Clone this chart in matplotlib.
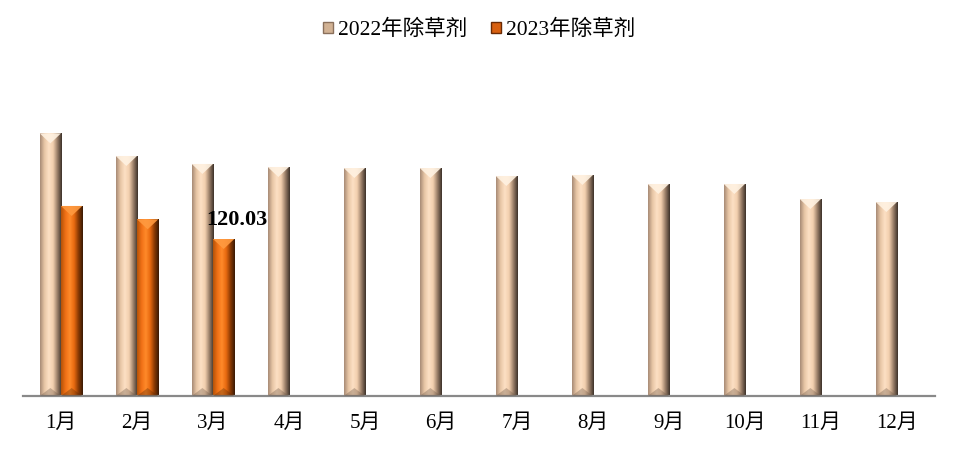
import matplotlib
matplotlib.use("Agg")
import matplotlib.pyplot as plt
import numpy as np
from matplotlib.colors import LinearSegmentedColormap
from matplotlib.patches import Patch, Polygon

months = ["1月", "2月", "3月", "4月", "5月", "6月", "7月", "8月", "9月", "10月", "11月", "12月"]
s2022 = [200.8, 183.5, 177.4, 175.1, 174.3, 174.3, 168.2, 169.0, 162.1, 162.1, 150.6, 148.3]
s2023 = [145.3, 135.1, 120.03]
series_names = ["2022年除草剂", "2023年除草剂"]
label_value = "120.03"

FONT = ["Liberation Serif", "Noto Sans CJK SC"]

fig = plt.figure(figsize=(9.58, 4.49), dpi=100)
ax = fig.add_axes([23/958, 53/449, 912/958, 336/449])

x = np.arange(len(months))
w = 0.28

cmap22 = LinearSegmentedColormap.from_list("c22", ["#a88c76", "#e8c6a6", "#fde0c4", "#f2cfae", "#9a7e68", "#3e322a"])
cmap23 = LinearSegmentedColormap.from_list("c23", ["#b55308", "#f07016", "#ff8a2a", "#e86a10", "#8a3a04", "#3a1a04"])

ax.set_xlim(-0.5, len(months) - 0.5)
ymax = 336 / 1.308
ax.set_ylim(0, ymax)

px_per_unit_y = 336 / ymax
bevel = 10 / px_per_unit_y
grad = np.linspace(0, 1, 64).reshape(1, -1)


def draw_bar(xc, h, cmap, top_col, bot_col):
    rects = ax.bar([xc], [h], width=w, color="none", edgecolor="none", zorder=2)
    r = rects[0]
    x0, x1 = xc - w / 2, xc + w / 2
    im = ax.imshow(grad, cmap=cmap, aspect="auto", extent=[x0, x1, 0, h], zorder=2, interpolation="bilinear")
    im.set_clip_path(r)
    ax.add_patch(Polygon([[x0, h], [x1, h], [xc, h - bevel]], closed=True, facecolor=top_col, edgecolor="none", zorder=3, alpha=0.9))
    ax.add_patch(Polygon([[x0, 0], [x1, 0], [xc, bevel * 0.8]], closed=True, facecolor=bot_col, edgecolor="none", zorder=3, alpha=0.35))


for i, v in enumerate(s2022):
    draw_bar(x[i] - w / 2, v, cmap22, "#fff2e2", "#6a5444")
for i, v in enumerate(s2023):
    draw_bar(x[i] + w / 2, v, cmap23, "#ff9a40", "#5a2a04")

ax.annotate(label_value, xy=(x[2] + w / 2, s2023[2]), xytext=(9.5, 6.3), textcoords="offset points",
            ha="center", va="bottom", fontsize=16, fontweight="bold", family=FONT, color="black")

for s in ["top", "left", "right"]:
    ax.spines[s].set_visible(False)
ax.spines["bottom"].set_color("#898989")
ax.spines["bottom"].set_linewidth(1.6)
ax.set_yticks([])
ax.set_xticks(x)
ax.set_xticklabels(months, family=FONT, fontsize=15)
ax.tick_params(axis="x", length=0, pad=13)

handles = [Patch(facecolor="#d2b294", edgecolor="#8a705c"), Patch(facecolor="#d86010", edgecolor="#6a2a04")]
leg = fig.legend(handles, series_names, loc="center", bbox_to_anchor=(0.5, 1 - 30/449), ncol=2, frameon=False,
                 prop={"family": FONT, "size": 15.5}, handlelength=0.47, handleheight=0.47, handletextpad=0.25,
                 columnspacing=1.1)

fig.savefig("out.png", dpi=100)
